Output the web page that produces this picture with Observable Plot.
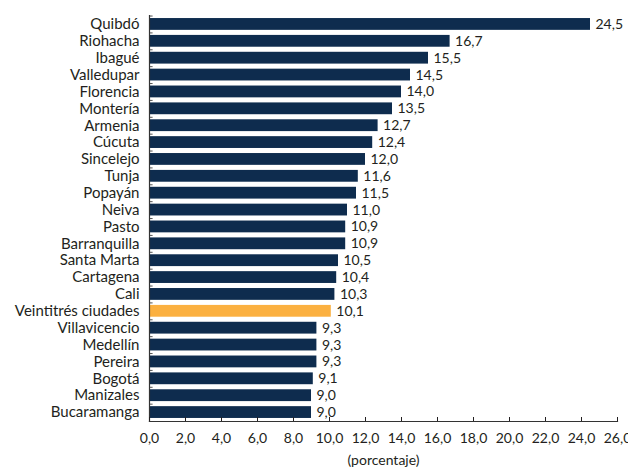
<!DOCTYPE html>
<html>
<head>
<meta charset="utf-8">
<script src="https://cdn.jsdelivr.net/npm/d3@7"></script>
<script src="https://cdn.jsdelivr.net/npm/@observablehq/plot@0.6"></script>
<style>
  html, body { margin: 0; padding: 0; background: #fff; }
  #chart svg { display: block; }
</style>
</head>
<body>
<div id="chart"></div>
<script>
// Cities, ordered from highest to lowest rate
const cities = [
  "Quibdó", "Riohacha", "Ibagué", "Valledupar", "Florencia", "Montería",
  "Armenia", "Cúcuta", "Sincelejo", "Tunja", "Popayán", "Neiva", "Pasto",
  "Barranquilla", "Santa Marta", "Cartagena", "Cali", "Veintitrés ciudades",
  "Villavicencio", "Medellín", "Pereira", "Bogotá", "Manizales", "Bucaramanga"
];
const rates = [
  24.5, 16.7, 15.5, 14.5, 14.0, 13.5,
  12.7, 12.4, 12.0, 11.6, 11.5, 11.0, 10.9,
  10.9, 10.5, 10.4, 10.3, 10.1,
  9.3, 9.3, 9.3, 9.1, 9.0, 9.0
];
const xTicks = [0, 2, 4, 6, 8, 10, 12, 14, 16, 18, 20, 22, 24, 26];
const aggregate = "Veintitrés ciudades";
const xLabel = "(porcentaje)";

const data = cities.map((c, i) => ({city: c, rate: rates[i]}));
const fmt = v => v.toFixed(1).replace(".", ",");
const font = "Lato, sans-serif";
const fs = 14;

const chart = Plot.plot({
  width: 628,
  height: 468,
  marginLeft: 149,
  marginRight: 11,
  marginTop: 15,
  marginBottom: 47,
  style: {fontFamily: font, fontSize: fs + "px", color: "#231f20", background: "#fff"},
  x: {domain: [0, 26], ticks: xTicks},
  y: {domain: cities, paddingInner: 0.3, paddingOuter: 0.18, round: false},
  marks: [
    Plot.barX(data, {
      y: "city", x: "rate",
      fill: d => d.city === aggregate ? "#fbb040" : "#0e2c4e"
    }),
    Plot.text(data, {
      y: "city", x: "rate", text: d => fmt(d.rate),
      textAnchor: "start", dx: 5, fill: "#231f20", fontSize: fs
    }),
    // small inward ticks between the category bands
    Plot.ruleY(cities, {y: d => d, x1: 0, x2: 0.2, dy: -8.4, stroke: "#555", strokeWidth: 1}),
    Plot.frame({anchor: "left", stroke: "#333", strokeWidth: 1.2}),
    Plot.frame({anchor: "bottom", stroke: "#333", strokeWidth: 1.2}),
    Plot.axisX({
      ticks: xTicks, tickFormat: fmt, tickSize: -4, tickPadding: 16,
      fontSize: fs, label: xLabel, labelAnchor: "center", labelArrow: "none",
      labelOffset: 43
    }),
    Plot.axisY({tickSize: 0, tickPadding: 10, fontSize: 15, label: null})
  ]
});
document.getElementById("chart").appendChild(chart);
</script>
</body>
</html>
